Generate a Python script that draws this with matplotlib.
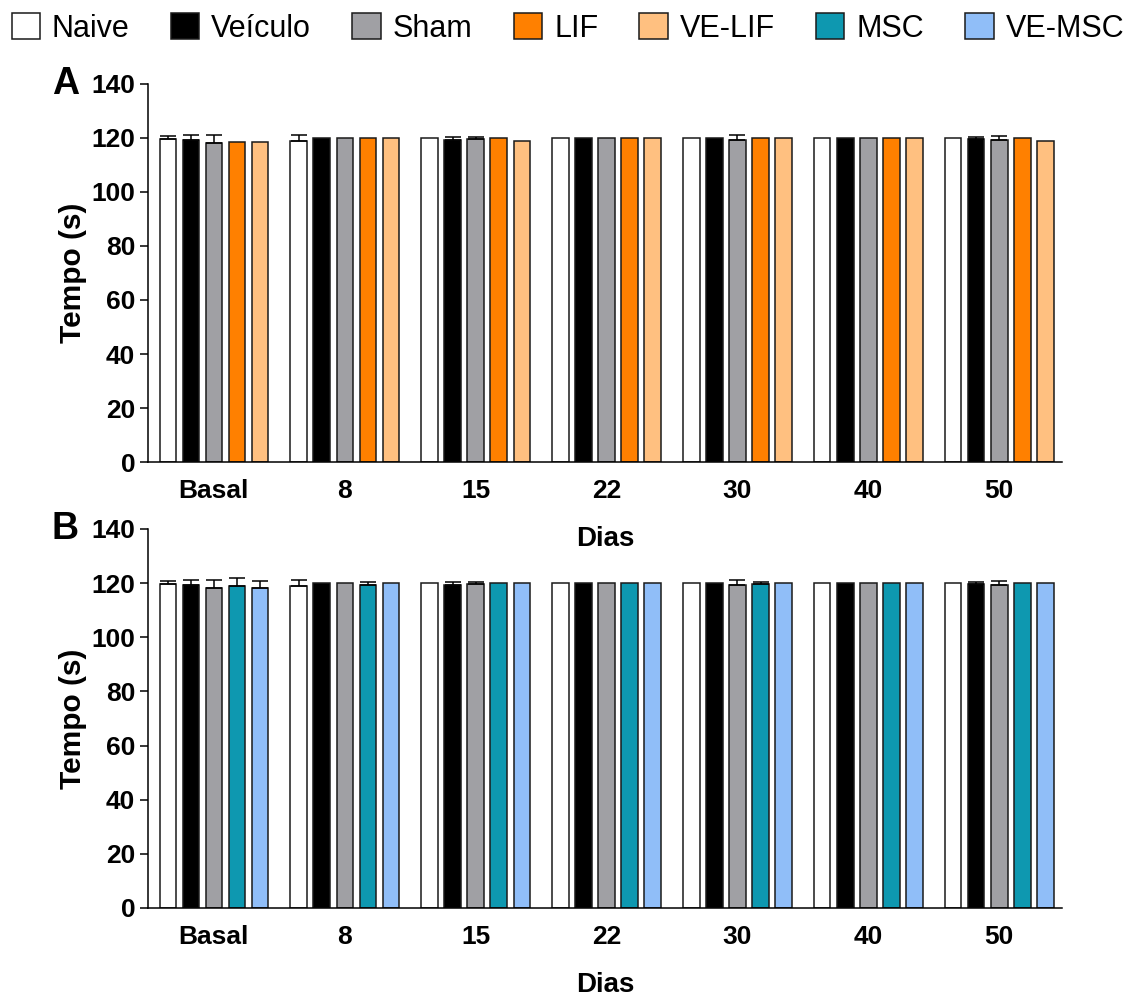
import numpy as np
import matplotlib
matplotlib.use('Agg')
import matplotlib.pyplot as plt
from matplotlib.patches import Patch

plt.rcParams['font.family'] = ['Liberation Sans', 'DejaVu Sans']

dias = ['Basal', '8', '15', '22', '30', '40', '50']

# media e EPM (s) por grupo
naive = [119.6, 119.0, 120.0, 120.0, 120.0, 120.0, 120.0]
naive_err = [1.0, 2.0, 0, 0, 0, 0, 0]
veiculo = [119.4, 120.0, 119.4, 120.0, 120.0, 120.0, 119.7]
veiculo_err = [1.6, 0, 1.0, 0, 0, 0, 0.8]
sham = [118.2, 120.0, 119.6, 120.0, 119.3, 120.0, 119.4]
sham_err = [2.8, 0, 0.9, 0, 1.7, 0, 1.4]
lif = [118.6, 120.0, 120.0, 119.8, 120.0, 120.0, 120.0]
lif_err = [0, 0, 0, 0, 0, 0, 0]
ve_lif = [118.4, 120.0, 119.0, 120.0, 120.0, 120.0, 119.0]
ve_lif_err = [0, 0, 0, 0, 0, 0, 0]
msc = [118.8, 119.2, 120.0, 120.0, 119.8, 120.0, 120.0]
msc_err = [3.2, 1.3, 0, 0, 0.6, 0, 0]
ve_msc = [118.2, 120.0, 120.0, 120.0, 120.0, 120.0, 120.0]
ve_msc_err = [2.6, 0, 0, 0, 0, 0, 0]

cores = {
    'Naive': '#FFFFFF',
    'Veículo': '#000000',
    'Sham': '#A0A0A4',
    'LIF': '#FF8000',
    'VE-LIF': '#FFC080',
    'MSC': '#0E98B0',
    'VE-MSC': '#90BEF8',
}

painel_a = [('Naive', naive, naive_err), ('Veículo', veiculo, veiculo_err),
            ('Sham', sham, sham_err), ('LIF', lif, lif_err),
            ('VE-LIF', ve_lif, ve_lif_err)]
painel_b = [('Naive', naive, naive_err), ('Veículo', veiculo, veiculo_err),
            ('Sham', sham, sham_err), ('MSC', msc, msc_err),
            ('VE-MSC', ve_msc, ve_msc_err)]

fig = plt.figure(figsize=(11.36, 9.99), dpi=100)
ax_a = fig.add_axes([0.130, 0.5375, 0.805, 0.3785])
ax_b = fig.add_axes([0.130, 0.0911, 0.805, 0.3794])
# o rótulo "Dias" do painel A fica por cima do topo do painel B
ax_b.patch.set_visible(False)
ax_a.set_zorder(2)

x = np.arange(len(dias))
passo = 0.176
largura = 0.125


def barras(ax, series, letra):
    for i, (nome, vals, errs) in enumerate(series):
        pos = x + (i - 2) * passo
        vals = np.array(vals)
        errs = np.array(errs)
        ax.bar(pos, vals, width=largura, color=cores[nome],
               edgecolor='#1a1a1a', linewidth=1.1, zorder=2)
        m = errs > 0
        ax.errorbar(pos[m], vals[m], yerr=[np.zeros(m.sum()), errs[m]],
                    fmt='none', ecolor='black', elinewidth=1.1,
                    capsize=6, capthick=1.1, zorder=3)
    ax.set_xlim(-0.505, 6.48)
    ax.set_ylim(0, 140)
    ax.set_yticks(range(0, 141, 20))
    ax.set_xticks(x)
    ax.set_xticklabels(dias)
    for s in ['top', 'right']:
        ax.spines[s].set_visible(False)
    for s in ['left', 'bottom']:
        ax.spines[s].set_linewidth(1.1)
    ax.tick_params(axis='y', length=6, width=1.1, labelsize=19, pad=3)
    ax.tick_params(axis='x', length=0, labelsize=19, pad=12)
    for lab in ax.get_xticklabels() + ax.get_yticklabels():
        lab.set_fontweight('bold')
    ax.set_ylabel('Tempo (s)', fontsize=21.5, fontweight='bold', labelpad=3)
    ax.set_xlabel('Dias', fontsize=20, fontweight='bold', labelpad=17)
    ax.text(-0.105, 1.0, letra, transform=ax.transAxes, fontsize=27,
            fontweight='bold', ha='left', va='center')


barras(ax_a, painel_a, 'A')
barras(ax_b, painel_b, 'B')

handles = [Patch(facecolor=c, edgecolor='#1a1a1a', linewidth=1.1, label=n)
           for n, c in cores.items()]
fig.legend(handles=handles, loc='upper center', bbox_to_anchor=(0.5, 0.999),
           ncol=7, frameon=False, fontsize=22, handlelength=0.92,
           handleheight=0.92, handletextpad=0.4, columnspacing=1.35,
           borderaxespad=0.0)

fig.savefig('out.png', dpi=100)
